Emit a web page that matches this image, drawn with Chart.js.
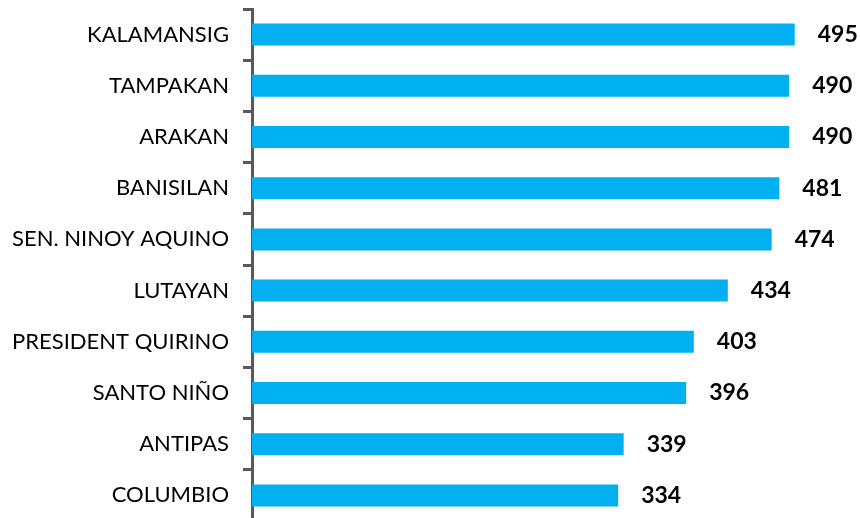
<!DOCTYPE html>
<html>
<head>
<meta charset="utf-8">
<script src="https://cdn.jsdelivr.net/npm/chart.js@4.4.1/dist/chart.umd.min.js"></script>
<style>
    html, body { margin: 0; padding: 0; background: #fff; overflow: hidden; }
    #wrap { width: 860px; height: 521px; }
</style>
</head>
<body>
<div id="wrap"><canvas id="barChart" width="860" height="521"></canvas></div>
<script>
const towns = ['KALAMANSIG', 'TAMPAKAN', 'ARAKAN', 'BANISILAN', 'SEN. NINOY AQUINO',
    'LUTAYAN', 'PRESIDENT QUIRINO', 'SANTO NIÑO', 'ANTIPAS', 'COLUMBIO'];
const counts = [495, 490, 490, 481, 474, 434, 403, 396, 339, 334];

// value labels at the end of each bar
const valueLabels = {
    id: 'valueLabels',
    afterDatasetsDraw(chart) {
        const ctx = chart.ctx;
        const meta = chart.getDatasetMeta(0);
        ctx.save();
        ctx.font = 'bold 23px Lato, sans-serif';
        ctx.fillStyle = '#000';
        ctx.textBaseline = 'middle';
        meta.data.forEach((bar, i) => {
            ctx.fillText(counts[i], bar.x + 23, bar.y);
        });
        ctx.restore();
    }
};

const ctx = document.getElementById('barChart').getContext('2d');
new Chart(ctx, {
    type: 'bar',
    data: {
        labels: towns,
        datasets: [{
            data: counts,
            backgroundColor: '#00B0F0',
            categoryPercentage: 1,
            barPercentage: 0.43
        }]
    },
    options: {
        indexAxis: 'y',
        responsive: false,
        animation: false,
        layout: { padding: { top: 9, right: 5, bottom: 0, left: 0 } },
        plugins: {
            legend: { display: false },
            tooltip: { enabled: false }
        },
        scales: {
            x: {
                display: false,
                min: 0,
                max: 550
            },
            y: {
                afterFit(scale) {
                    scale.width = 252;
                    scale.paddingTop = 0;
                    scale.paddingBottom = 0;
                },
                grid: {
                    drawOnChartArea: false,
                    color: '#595959',
                    lineWidth: 3,
                    tickLength: 9,
                    offset: true
                },
                border: { color: '#595959', width: 3 },
                ticks: {
                    color: '#000',
                    padding: 14,
                    font: { family: 'Lato, sans-serif', size: 22 }
                }
            }
        }
    },
    plugins: [valueLabels]
});
</script>
</body>
</html>
